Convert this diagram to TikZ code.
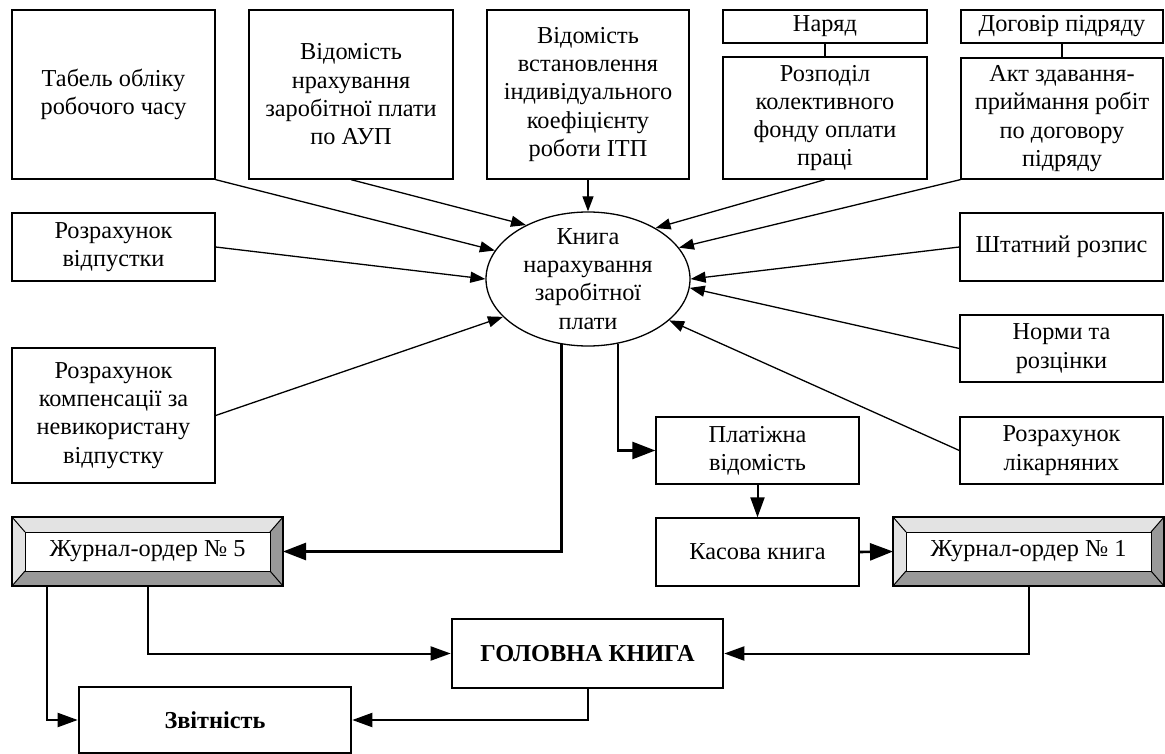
\documentclass[tikz,border=0pt]{standalone}
\usepackage{fontspec}
\setmainfont{Liberation Serif}
\usetikzlibrary{arrows.meta,shapes.geometric,calc}
\definecolor{bevlight}{HTML}{E3E3E3}
\definecolor{bevdark}{HTML}{999999}
\newcommand\bevelfill[1]{%
 \fill[bevlight] (#1.north west) -- (#1.north east) -- ($(#1.north east)+(-13,15)$) -- ($(#1.north west)+(13,15)$) -- cycle;
 \fill[bevlight] (#1.north west) -- ($(#1.north west)+(13,15)$) -- ($(#1.south west)+(13,-15)$) -- (#1.south west) -- cycle;
 \fill[bevdark] (#1.north east) -- ($(#1.north east)+(-13,15)$) -- ($(#1.south east)+(-13,-15)$) -- (#1.south east) -- cycle;
 \fill[bevdark] (#1.south west) -- ($(#1.south west)+(13,-15)$) -- ($(#1.south east)+(-13,-15)$) -- (#1.south east) -- cycle;
 \draw[line width=1pt] ($(#1.north west)+(13,15)$) rectangle ($(#1.south east)+(-13,-15)$);
 \draw[line width=1pt] (#1.north west) -- ($(#1.north west)+(13,15)$) (#1.north east) -- ($(#1.north east)+(-13,15)$) (#1.south west) -- ($(#1.south west)+(13,-15)$) (#1.south east) -- ($(#1.south east)+(-13,-15)$);
 \draw[line width=1.6pt] (#1.north west) rectangle (#1.south east);
}
\begin{document}
\begin{tikzpicture}[x=1pt,y=-1pt,
  txt/.style={font=\fontsize{24.3}{28.3}\selectfont, align=center, inner sep=0pt},
  box/.style={txt, draw, line width=1.3pt},
  boldbox/.style={txt, draw, line width=2.6pt, font=\fontsize{24.3}{28.3}\selectfont\bfseries},
  bevel/.style={txt, outer sep=0pt, minimum width=271, minimum height=69},
  arr/.style={-{Triangle[length=15pt,width=11pt]}, line width=1.3pt},
  mid/.style={-{Triangle[length=20pt,width=14pt]}, line width=2pt},
  thk/.style={-{Triangle[length=23pt,width=17pt]}, line width=2.6pt}]
\useasboundingbox (0,0) rectangle (1165,754);

% top row
\node[box, minimum width=203, minimum height=169] (tab) at (113.5,94.5) {Табель обліку\\робочого часу};
\node[box, minimum width=204, minimum height=169] (vidn) at (351,94.5) {Відомість\\нрахування\\заробітної плати\\по АУП};
\node[box, minimum width=202, minimum height=169] (vidv) at (588,94.5) {Відомість\\встановлення\\індивідуального\\коефіцієнту\\роботи ІТП};
\node[box, minimum width=204, minimum height=33] (nar) at (825,26.5) {Наряд};
\node[box, minimum width=204, minimum height=122] (rozp) at (825,118) {Розподіл\\колективного\\фонду оплати\\праці};
\node[box, minimum width=202, minimum height=33] (dog) at (1062,26.5) {Договір підряду};
\node[box, minimum width=202, minimum height=121] (akt) at (1062,118.5) {Акт здавання-\\приймання робіт\\по договору\\підряду};

% side boxes
\node[box, minimum width=203, minimum height=68] (rvid) at (113.5,247) {Розрахунок\\відпустки};
\node[box, minimum width=203, minimum height=135] (komp) at (113.5,415.5) {Розрахунок\\компенсації за\\невикористану\\відпустку};
\node[box, minimum width=203, minimum height=68] (shtat) at (1061.5,247) {Штатний розпис};
\node[box, minimum width=203, minimum height=67] (norm) at (1061.5,348.5) {Норми та\\розцінки};
\node[box, minimum width=203, minimum height=67] (likar) at (1061.5,450.5) {Розрахунок\\лікарняних};

% centre ellipse
\node[draw, ellipse, line width=1.3pt, minimum width=204, minimum height=134, inner sep=0pt] (ell) at (588,279) {};
\node[txt] (elltxt) at (588,279) {Книга\\нарахування\\заробітної\\плати};

% lower part
\node[box, minimum width=203, minimum height=67] (plat) at (757.5,450.5) {Платіжна\\відомість};
\node[box, minimum width=203, minimum height=68] (kas) at (757.5,552) {Касова книга};
\node[bevel] (j5) at (147.5,551.5) {};
\bevelfill{j5}
\node[txt] (j5t) at (j5.center) {Журнал-ордер № 5};
\node[bevel] (j1) at (1028.5,551.5) {};
\bevelfill{j1}
\node[txt] (j1t) at (j1.center) {Журнал-ордер № 1};
\node[boldbox, minimum width=271, minimum height=69] (gol) at (587.5,653.5) {ГОЛОВНА КНИГА};
\node[boldbox, minimum width=272, minimum height=66] (zvit) at (215,720) {Звітність};

% connectors into the ellipse
\draw[line width=1.3pt] (nar.south) -- (rozp.north);
\draw[line width=1.3pt] (dog.south) -- (akt.north);
\draw[arr] (tab.south east) -- (ell.163);
\draw[arr] (vidn.south) -- (ell.139);
\draw[arr] (vidv.south) -- (ell.north);
\draw[arr] (rvid.east) -- (ell.180);
\draw[arr] (komp.east) -- (ell.204);
\draw[arr] (rozp.south) -- (ell.37);
\draw[arr] (akt.south west) -- (ell.19);
\draw[arr] (shtat.west) -- (ell.0);
\draw[arr] (norm.west) -- (ell.-5);
\draw[arr] (likar.west) -- (ell.-27);

% outgoing connectors
\draw[thk] (ell.248) |- (j5.east);
\draw[thk] (ell.295) |- (plat.west);
\draw[mid] (plat.south) -- (kas.north);
\draw[thk] (kas.east) -- (j1.west);
\draw[mid] ($(j5.south west)+(136,0)$) |- (gol.west);
\draw[mid] ($(j5.south west)+(35,0)$) |- (zvit.west);
\draw[mid] (gol.south) |- (zvit.east);
\draw[mid] (j1.south) |- (gol.east);
\end{tikzpicture}
\end{document}
